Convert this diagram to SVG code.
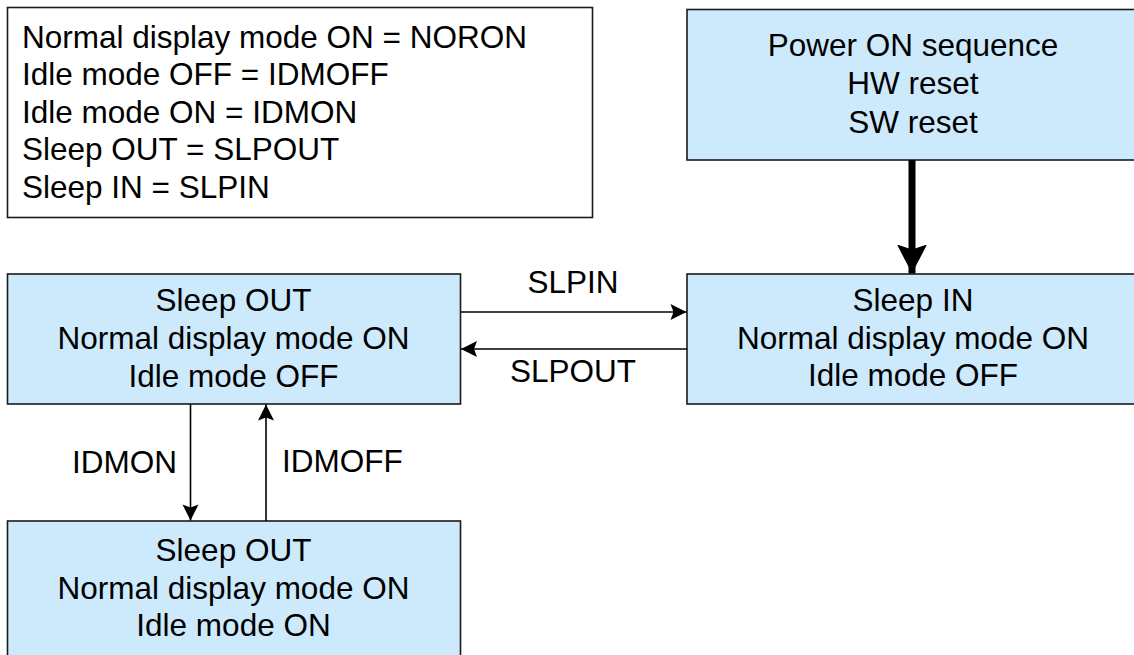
<svg xmlns="http://www.w3.org/2000/svg" width="1134" height="655" viewBox="0 0 1134 655">
<defs>
<style>
text{font-family:"Liberation Sans",Arial,sans-serif;font-size:31.5px;fill:#000}
.c{text-anchor:middle}
.node{fill:#cdeafc;stroke:#1a1a1a;stroke-width:1.6}
.leg{fill:#fff;stroke:#1a1a1a;stroke-width:1.6}
.thin{stroke:#000;stroke-width:1.6;fill:none}
.thick{stroke:#000;stroke-width:7;fill:none}
</style>
<marker id="a" markerUnits="userSpaceOnUse" markerWidth="18" markerHeight="18" viewBox="0 0 18 18" refX="17" refY="8" orient="auto">
<path d="M1,0 L17,8 L1,16 L4,8 Z" fill="#000"/>
</marker>
<marker id="A" markerUnits="userSpaceOnUse" markerWidth="30" markerHeight="32" viewBox="0 0 30 32" refX="29" refY="15" orient="auto">
<path d="M0,0 L29,15 L0,30 L5,15 Z" fill="#000"/>
</marker>
</defs>
<g id="legend">
<rect class="leg" x="7.5" y="7.5" width="585" height="210"/>
<text x="22" y="47.5">Normal display mode ON = NORON</text>
<text x="22" y="85">Idle mode OFF = IDMOFF</text>
<text x="22" y="122.5">Idle mode ON = IDMON</text>
<text x="22" y="160">Sleep OUT = SLPOUT</text>
<text x="22" y="197.5">Sleep IN = SLPIN</text>
</g>
<g id="power">
<rect class="node" x="687" y="9.5" width="460" height="150.5"/>
<text class="c" x="913" y="55.5">Power ON sequence</text>
<text class="c" x="913" y="94">HW reset</text>
<text class="c" x="913" y="132.5">SW reset</text>
</g>
<g id="sleepin">
<rect class="node" x="687" y="274" width="460" height="130"/>
<text class="c" x="913" y="310.5">Sleep IN</text>
<text class="c" x="913" y="348.5">Normal display mode ON</text>
<text class="c" x="913" y="386">Idle mode OFF</text>
</g>
<g id="sleepout">
<rect class="node" x="7.5" y="274" width="453" height="130"/>
<text class="c" x="233.5" y="310.5">Sleep OUT</text>
<text class="c" x="233.5" y="348.5">Normal display mode ON</text>
<text class="c" x="233.5" y="386.5">Idle mode OFF</text>
</g>
<g id="idle">
<rect class="node" x="7.5" y="521" width="453" height="150"/>
<text class="c" x="233.5" y="561">Sleep OUT</text>
<text class="c" x="233.5" y="598.5">Normal display mode ON</text>
<text class="c" x="233.5" y="636">Idle mode ON</text>
</g>
<g id="connectors">
<line class="thick" x1="912" y1="160" x2="912" y2="273.5" marker-end="url(#A)"/>
<line class="thin" x1="460.5" y1="312" x2="686.5" y2="312" marker-end="url(#a)"/>
<line class="thin" x1="687" y1="349" x2="461" y2="349" marker-end="url(#a)"/>
<line class="thin" x1="190.5" y1="404" x2="190.5" y2="520.5" marker-end="url(#a)"/>
<line class="thin" x1="266" y1="521" x2="266" y2="404.5" marker-end="url(#a)"/>
<text class="c" x="573" y="293">SLPIN</text>
<text class="c" x="573" y="382">SLPOUT</text>
<text x="177" y="473" text-anchor="end">IDMON</text>
<text x="282" y="472">IDMOFF</text>
</g>
</svg>
